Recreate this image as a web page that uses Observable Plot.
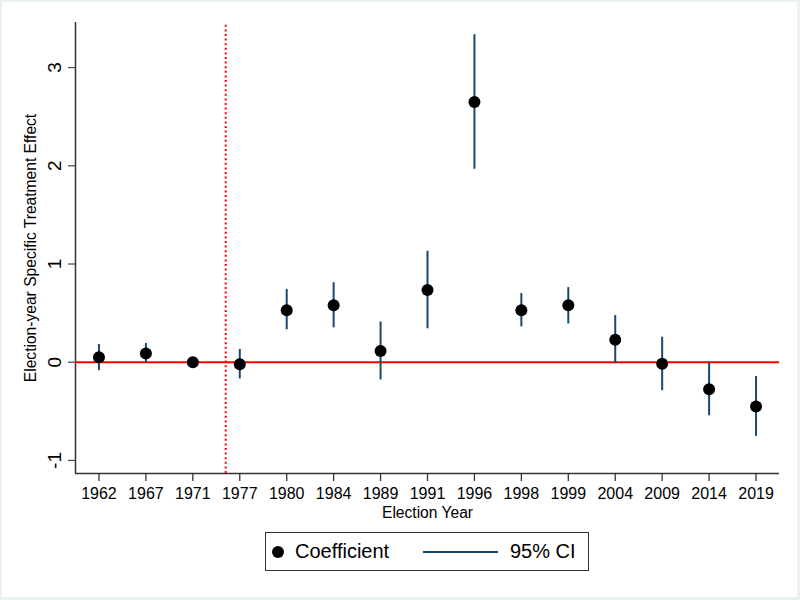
<!DOCTYPE html>
<html>
<head>
<meta charset="utf-8">
<script src="https://cdn.jsdelivr.net/npm/d3@7"></script>
<script src="https://cdn.jsdelivr.net/npm/@observablehq/plot@0.6"></script>
<style>
  html, body { margin: 0; padding: 0; background: #fff; }
  #wrap { position: relative; width: 800px; height: 600px; overflow: hidden; background: #fff;
          font-family: "Liberation Sans", Arial, Helvetica, sans-serif; }
  #chart { position: absolute; left: 0; top: 0; }
  #legend { position: absolute; left: 265px; top: 532px; width: 324px; height: 39px;
            box-sizing: border-box; border: 1.5px solid #333; background: #fff; }
  #legend .dot { position: absolute; left: 6px; top: 13px; width: 12px; height: 12px; border-radius: 50%; background: #000; }
  #legend .t1 { position: absolute; left: 29px; top: 6px; font-size: 20px; line-height: 24px; color: #000; }
  #legend .ln { position: absolute; left: 157px; top: 17.5px; width: 75px; height: 2px; background: #1a476f; }
  #legend .t2 { position: absolute; left: 244px; top: 6px; font-size: 20px; line-height: 24px; color: #000; }
  #frame { position: absolute; left: 0; top: 0; width: 800px; height: 600px; box-sizing: border-box;
           border: 2px solid #e9f1f1; border-right-width: 3px; border-bottom-width: 3px; pointer-events: none; }
</style>
</head>
<body>
<div id="wrap">
  <div id="chart"></div>
  <div id="legend">
    <div class="dot"></div><div class="t1">Coefficient</div>
    <div class="ln"></div><div class="t2">95% CI</div>
  </div>
  <div id="frame"></div>
</div>
<script>
const years  = ["1962","1967","1971","1977","1980","1984","1989","1991","1996","1998","1999","2004","2009","2014","2019"];
const coef   = [0.05, 0.09, 0, -0.02, 0.53, 0.58, 0.115, 0.735, 2.65, 0.53, 0.58, 0.23, -0.015, -0.275, -0.45];
const ciLow  = [-0.085, -0.005, 0, -0.17, 0.33, 0.35, -0.18, 0.34, 1.965, 0.36, 0.39, -0.015, -0.29, -0.545, -0.755];
const ciHigh = [0.18, 0.19, 0, 0.13, 0.74, 0.81, 0.41, 1.13, 3.335, 0.70, 0.76, 0.475, 0.255, 0.0, -0.145];
const yTicks = [-1, 0, 1, 2, 3];
const treatmentBreak = 2.7; // position between 1971 and 1977 (category index)
const xDomain = [-0.5, years.length - 0.5];
const yDomain = [-1.133, 3.459];

const data = years.map((y, i) => ({i, year: y, coef: coef[i], lo: ciLow[i], hi: ciHigh[i]}));
const ciData = data.filter(d => d.hi !== d.lo);

const axisColor = "#333";
const chart = Plot.plot({
  width: 800,
  height: 525,
  marginLeft: 75,
  marginRight: 21,
  marginTop: 22,
  marginBottom: 52,
  style: {fontFamily: '"Liberation Sans", Arial, Helvetica, sans-serif', color: "#000", background: "transparent"},
  x: {type: "linear", domain: xDomain},
  y: {domain: yDomain},
  marks: [
    Plot.ruleX([xDomain[0]], {y1: yDomain[0], y2: yDomain[1], stroke: axisColor, strokeWidth: 1.5}),
    Plot.ruleY([yDomain[0]], {x1: xDomain[0], x2: xDomain[1], stroke: axisColor, strokeWidth: 1.5}),
    Plot.axisX({ticks: d3.range(years.length), tickFormat: i => years[i], tickSize: 8, tickPadding: 6.5,
                fontSize: 16, stroke: axisColor, strokeWidth: 1.3, label: null}),
    Plot.axisY({ticks: yTicks, tickFormat: d => String(d), tickSize: 7, tickPadding: 8, tickRotate: -90,
                fontSize: 19, stroke: "#555", strokeWidth: 1.3, label: null}),
    Plot.text(["Election Year"], {frameAnchor: "bottom", dy: 39.5, lineAnchor: "middle", fontSize: 15.6, fill: "#000"}),
    Plot.text(["Election-year Specific Treatment Effect"], {frameAnchor: "left", dx: -45, rotate: -90,
              lineAnchor: "middle", textAnchor: "middle", fontSize: 15.6, fill: "#000"}),
    Plot.ruleY([0], {x1: xDomain[0], x2: xDomain[1], stroke: "#ff0000", strokeWidth: 2}),
    Plot.ruleX([treatmentBreak], {y1: yDomain[0], y2: 3.43, stroke: "#ff0000", strokeWidth: 2, strokeDasharray: "2,2.6"}),
    Plot.ruleX(ciData, {x: "i", y1: "lo", y2: "hi", stroke: "#1a476f", strokeWidth: 2}),
    Plot.dot(data, {x: "i", y: "coef", r: 6, fill: "#000", stroke: "none"})
  ]
});
document.getElementById("chart").appendChild(chart);
</script>
</body>
</html>
